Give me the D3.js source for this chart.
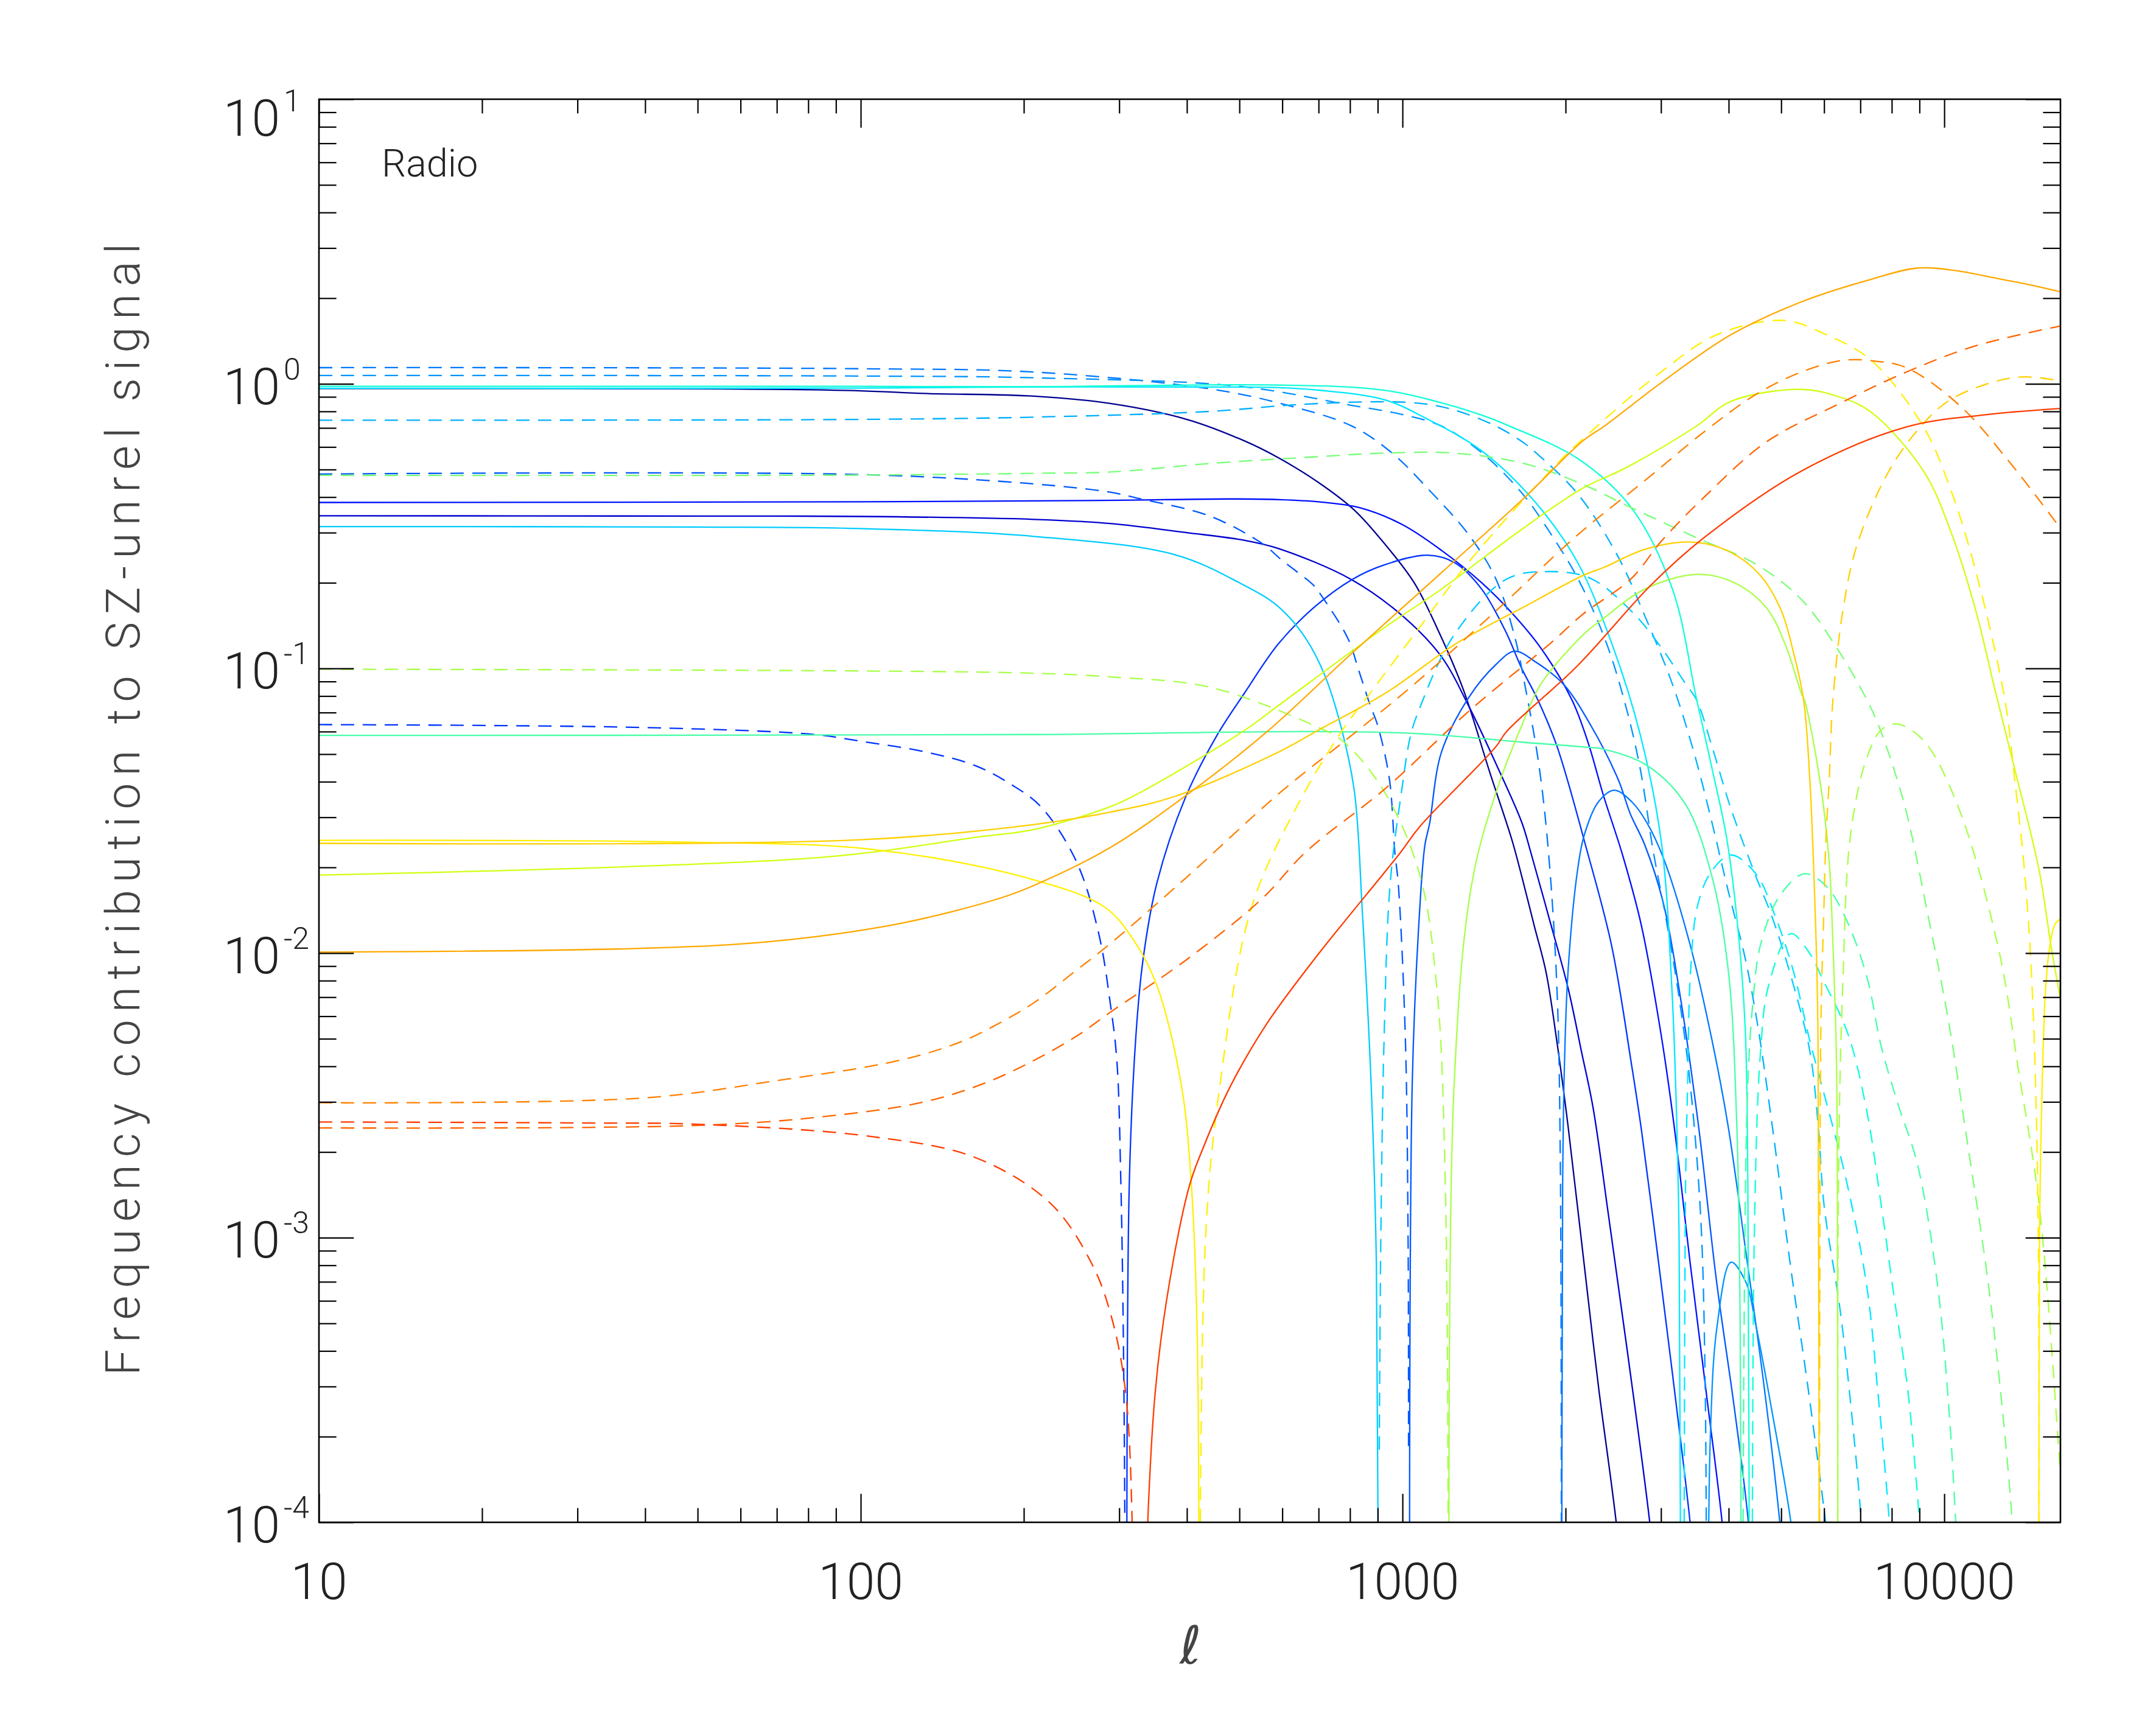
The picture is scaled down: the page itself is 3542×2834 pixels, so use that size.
<!DOCTYPE html>
<html>
<head>
<meta charset="utf-8">
<script src="https://cdn.jsdelivr.net/npm/d3@7"></script>
<style>
  body { margin: 0; background: #fff; }
  text { font-family: Roboto, "DejaVu Sans", sans-serif; font-weight: 300; fill: #222; }
</style>
</head>
<body>
<svg id="chart" width="3542" height="2834"></svg>
<script>
// frequency contributions vs multipole ell
// sign < 0 means negative contribution (drawn dashed), > 0 positive (solid)
// +-1e-5 marks a zero crossing (falls below the axis floor)

const navy = [[10,0.962],[30,0.962],[55,0.96],[100,0.945],[131,0.925],[209,0.905],[289,0.853],[400,0.75],[511,0.63],[590,0.55],[700,0.45],[815,0.36],[930,0.272],[1051,0.2],[1170,0.133],[1295,0.0843],[1450,0.043],[1592,0.025],[1660,0.0186],[1750,0.0125],[1840,0.0086],[1930,0.0048],[2021,0.00247],[2150,0.0009],[2300,0.0003],[2480,0.0001],[2600,0.00004]];
const darkBlue = [[10,0.344],[50,0.343],[100,0.342],[209,0.334],[289,0.323],[400,0.30],[511,0.282],[590,0.264],[806,0.205],[1004,0.152],[1180,0.11],[1325,0.0738],[1486,0.0465],[1660,0.0288],[1725,0.0226],[1862,0.0134],[2021,0.00754],[2140,0.0045],[2248,0.00286],[2400,0.0012],[2600,0.0004],[2860,0.0001],[3000,0.00004]];
const blue = [[10,0.383],[100,0.385],[209,0.388],[300,0.39],[481,0.394],[590,0.392],[700,0.385],[834,0.367],[1000,0.32],[1180,0.26],[1400,0.2],[1600,0.155],[1800,0.118],[2055,0.0775],[2200,0.055],[2348,0.0359],[2550,0.022],[2760,0.0125],[3000,0.0052],[3170,0.0025],[3400,0.0008],[3650,0.00027],[3890,0.0001],[4050,0.00004]];
const blueHump = [[10,-0.0635],[40,-0.062],[82,-0.0586],[100,-0.0555],[131,-0.051],[163,-0.0455],[190,-0.039],[215,-0.0327],[250,-0.021],[275,-0.0117],[289,-0.0066],[297,-0.0042],[302,-0.0016],[306,-0.0003],[309,-0.00001],[310,0.00001],[313,0.0015],[322,0.0051],[332,0.0095],[352,0.0176],[397,0.035],[454,0.058],[511,0.082],[590,0.122],[687,0.164],[806,0.205],[925,0.231],[1113,0.25],[1250,0.235],[1400,0.19],[1550,0.135],[1660,0.1],[1778,0.0775],[1928,0.0533],[2188,0.0231],[2430,0.0107],[2650,0.004],[2760,0.0024],[3000,0.0007],[3200,0.00026],[3395,0.0001],[3550,0.00004]];
const azureA = [[10,-0.482],[100,-0.48],[209,-0.445],[289,-0.416],[327,-0.395],[441,-0.343],[552,-0.274],[596,-0.242],[687,-0.195],[706,-0.182],[792,-0.128],[831,-0.098],[870,-0.075],[900,-0.063],[946,-0.0408],[968,-0.0226],[982,-0.0176],[1012,-0.0051],[1024,-0.001],[1026,-0.000175],[1031,0.00001],[1042,0.0034],[1074,0.0135],[1100,0.024],[1122,0.0285],[1180,0.0508],[1325,0.079],[1486,0.103],[1610,0.115],[1766,0.105],[1983,0.088],[2227,0.063],[2500,0.0408],[2634,0.0308],[2800,0.024],[3030,0.015],[3250,0.0072],[3516,0.0025],[3800,0.0007],[4100,0.00025],[4350,0.0001],[4500,0.00004]];
const azureB = [[10,-1.14],[100,-1.13],[209,-1.10],[441,-0.96],[600,-0.85],[806,-0.711],[957,-0.571],[1113,-0.429],[1325,-0.295],[1486,-0.207],[1610,-0.13],[1687,-0.085],[1788,-0.045],[1862,-0.022],[1928,-0.0075],[1955,-0.002],[1964,-0.00001],[1968,0.00001],[1975,0.0015],[1990,0.004],[2020,0.0085],[2100,0.019],[2163,0.0258],[2300,0.034],[2460,0.0373],[2650,0.034],[2823,0.0288],[3030,0.0216],[3395,0.0107],[3725,0.00496],[3990,0.00247],[4300,0.0009],[4650,0.0003],[4970,0.0001],[5150,0.00004]];
const azureC = [[10,-1.07],[100,-1.065],[209,-1.05],[500,-0.98],[806,-0.84],[1000,-0.78],[1180,-0.711],[1403,-0.571],[1667,-0.41],[1870,-0.301],[2107,-0.207],[2360,-0.128],[2558,-0.079],[2740,-0.0455],[2905,-0.0226],[3061,-0.0134],[3243,-0.0069],[3395,-0.0035],[3550,-0.0012],[3620,-0.0003],[3645,-0.00001],[3660,0.00001],[3700,0.0002],[3810,0.000493],[4040,0.00082],[4300,0.0007],[4490,0.000493],[4800,0.00025],[5210,0.0001],[5400,0.00005]];
const skyDashed = [[10,-0.745],[100,-0.75],[209,-0.764],[441,-0.80],[638,-0.845],[925,-0.865],[1100,-0.85],[1245,-0.81],[1486,-0.711],[1675,-0.62],[1766,-0.571],[2107,-0.41],[2500,-0.247],[2805,-0.152],[3150,-0.088],[3450,-0.0508],[3725,-0.0288],[3990,-0.0166],[4290,-0.0096],[4530,-0.0055],[4810,-0.0025],[5200,-0.0008],[5600,-0.0003],[6040,-0.0001],[6300,-0.00005]];
const sky = [[10,0.315],[50,0.314],[100,0.31],[209,0.291],[380,0.251],[500,0.2],[590,0.165],[662,0.128],[718,0.095],[769,0.063],[815,0.037],[843,0.014],[875,0.0035],[895,0.0008],[902,0.00001],[906,-0.00018],[912,-0.001],[925,-0.0051],[949,-0.0176],[996,-0.037],[1035,-0.0582],[1074,-0.072],[1245,-0.131],[1556,-0.206],[1870,-0.219],[2227,-0.207],[2645,-0.159],[2970,-0.122],[3335,-0.088],[3490,-0.0775],[3725,-0.0533],[4040,-0.0321],[4490,-0.0186],[4810,-0.0134],[5270,-0.0077],[5650,-0.0045],[5850,-0.0025],[6000,-0.0013],[6430,-0.00055],[6830,-0.00019],[7030,-0.0001],[7200,-0.00005]];
const cyan = [[10,0.965],[100,0.966],[209,0.975],[400,0.975],[593,0.97],[700,0.95],[925,0.88],[1100,0.76],[1403,0.58],[1766,0.38],[2107,0.235],[2443,0.12],[2750,0.058],[3005,0.0245],[3140,0.0077],[3200,0.003],[3240,0.001],[3262,0.00001],[3305,-0.00001],[3330,-0.0015],[3360,-0.0035],[3400,-0.0085],[3500,-0.0145],[3700,-0.0191],[4040,-0.0221],[4490,-0.019],[4880,-0.0134],[5270,-0.0086],[5650,-0.0049],[6000,-0.0032],[6590,-0.0016],[7190,-0.00068],[7550,-0.00028],[7920,-0.0001],[8100,-0.00005]];
const turquoise = [[10,0.98],[100,0.98],[209,0.977],[593,0.99],[925,0.95],[1200,0.85],[1445,0.76],[1574,0.711],[2107,0.546],[2645,0.367],[3150,0.19],[3490,0.078],[3725,0.0447],[3960,0.0258],[4140,0.0134],[4290,0.0055],[4340,0.0015],[4370,0.00001],[4420,-0.00001],[4460,-0.001],[4580,-0.0045],[4740,-0.0077],[5210,-0.0117],[5600,-0.0102],[6000,-0.0079],[6640,-0.0052],[7190,-0.0028],[7650,-0.0013],[8100,-0.0006],[8550,-0.0003],[8800,-0.00017],[9000,-0.0001],[9200,-0.00005]];
const aqua = [[10,0.0582],[209,0.0586],[687,0.06],[1074,0.059],[1660,0.0551],[2152,0.053],[2345,0.0521],[2823,0.0457],[3320,0.0336],[3725,0.0186],[3996,0.0086],[4140,0.0025],[4200,0.0005],[4220,0.00001],[4240,-0.00001],[4325,-0.0029],[4440,-0.0069],[4580,-0.0107],[4970,-0.0159],[5520,-0.019],[6050,-0.0172],[6560,-0.0134],[7190,-0.0083],[7650,-0.0047],[8190,-0.003],[8930,-0.0018],[9720,-0.00068],[10200,-0.00025],[10500,-0.0001],[10700,-0.00005]];
const mint = [[10,-0.477],[100,-0.478],[209,-0.485],[289,-0.49],[441,-0.525],[700,-0.555],[925,-0.571],[1245,-0.571],[1675,-0.525],[2152,-0.443],[2645,-0.367],[3490,-0.288],[4500,-0.232],[5445,-0.175],[6300,-0.12],[7200,-0.0775],[7640,-0.06],[8450,-0.033],[9300,-0.014],[10160,-0.0059],[11100,-0.002],[12070,-0.00068],[12800,-0.00025],[13350,-0.0001],[13600,-0.00005]];
const lightGreen = [[10,-0.0994],[100,-0.098],[209,-0.0962],[289,-0.0934],[441,-0.0859],[687,-0.063],[774,-0.0558],[925,-0.037],[1074,-0.0191],[1156,-0.0077],[1200,-0.0015],[1215,-0.00001],[1222,0.00001],[1245,0.0034],[1343,0.0176],[1490,0.037],[1660,0.063],[1800,0.088],[2152,0.131],[2340,0.149],[2800,0.19],[3490,0.214],[4100,0.2],[4700,0.163],[5100,0.12],[5445,0.082],[5520,0.0775],[5900,0.04],[6130,0.0211],[6230,0.0107],[6320,0.0045],[6350,0.0015],[6360,0.00001],[6370,-0.00001],[6380,-0.0016],[6490,-0.0073],[6720,-0.0264],[7190,-0.0483],[7660,-0.061],[8190,-0.0638],[9160,-0.0558],[10600,-0.0328],[12600,-0.0103],[13730,-0.0038],[14970,-0.0013],[16320,-0.000165],[16500,-0.00012]];
const yellowGreen = [[10,0.0188],[85,0.0217],[163,0.0255],[209,0.0272],[289,0.0327],[331,0.037],[511,0.0606],[593,0.0746],[925,0.139],[1180,0.19],[1667,0.31],[2152,0.43],[2590,0.508],[3490,0.711],[4045,0.869],[5445,0.956],[6400,0.9],[7330,0.795],[9160,0.493],[10300,0.3],[11430,0.16],[12390,0.085],[13490,0.0443],[14960,0.0196],[15780,0.0103],[16430,0.0067]];
const yellow = [[10,0.0249],[50,0.0245],[106,0.0231],[202,0.0184],[282,0.0145],[320,0.011],[352,0.0077],[391,0.0034],[408,0.0015],[418,0.00044],[421,0.00001],[422,-0.00001],[433,-0.001],[460,-0.0034],[526,-0.0144],[638,-0.0327],[774,-0.0606],[859,-0.079],[1074,-0.139],[1343,-0.244],[1928,-0.523],[2152,-0.64],[3000,-1.1],[3810,-1.49],[5058,-1.67],[6000,-1.5],[7330,-1.21],[9160,-0.705],[10300,-0.42],[11430,-0.22],[12940,-0.0775],[13490,-0.0407],[14090,-0.0187],[14460,-0.009],[14720,-0.0038],[14910,-0.00105],[14960,-0.00001],[14965,0.00001],[14990,0.00105],[15180,0.0038],[15370,0.0073],[15630,0.0103],[16030,0.0127],[16430,0.0132]];
const gold = [[10,0.0243],[100,0.025],[209,0.0283],[289,0.0313],[380,0.0355],[590,0.0508],[698,0.0606],[935,0.0824],[1245,0.121],[1486,0.146],[1660,0.163],[2152,0.212],[2360,0.227],[2800,0.262],[3413,0.278],[4000,0.258],[4560,0.214],[5000,0.16],[5285,0.111],[5500,0.0775],[5650,0.04],[5760,0.0166],[5820,0.0086],[5850,0.0045],[5880,0.00001],[5890,-0.00001],[5920,-0.0055],[5990,-0.0134],[6050,-0.0258],[6130,-0.04],[6230,-0.0775],[6500,-0.16],[6900,-0.271],[7900,-0.493],[9030,-0.705],[10160,-0.869],[12000,-1.0],[13680,-1.055],[15000,-1.05],[16480,-1.02]];
const orange = [[10,0.01008],[40,0.0104],[69,0.011],[118,0.0127],[181,0.0156],[209,0.0173],[289,0.0235],[408,0.037],[566,0.0606],[798,0.111],[1180,0.217],[1667,0.393],[2152,0.63],[2360,0.711],[3005,1.01],[4045,1.49],[5445,1.94],[7330,2.33],[8900,2.55],[10500,2.5],[12330,2.36],[14500,2.22],[16480,2.10]];
const darkOrange = [[10,-0.00298],[40,-0.0031],[69,-0.00355],[118,-0.0042],[154,-0.0049],[181,-0.0057],[209,-0.0067],[250,-0.0087],[289,-0.0108],[400,-0.0185],[593,-0.0365],[792,-0.0567],[1051,-0.088],[1486,-0.159],[2107,-0.295],[2805,-0.458],[3610,-0.68],[4500,-0.92],[5445,-1.10],[6500,-1.21],[7500,-1.2],[8510,-1.14],[10650,-0.843],[13280,-0.523],[16480,-0.306]];
const redOrange = [[10,-0.00243],[50,-0.00248],[85,-0.00266],[131,-0.003],[170,-0.0035],[209,-0.0042],[250,-0.0051],[289,-0.0062],[400,-0.0095],[550,-0.0155],[662,-0.0226],[935,-0.0382],[1325,-0.0707],[1870,-0.122],[2152,-0.155],[2645,-0.207],[3005,-0.28],[3610,-0.401],[4700,-0.626],[6330,-0.843],[8510,-1.10],[11430,-1.36],[16480,-1.60]];
const red = [[10,-0.00255],[30,-0.00253],[51,-0.0025],[106,-0.00226],[163,-0.00191],[224,-0.00132],[267,-0.00081],[290,-0.00053],[308,-0.00029],[318,-0.00008],[322,-0.00001],[333,0.00001],[340,0.00012],[358,0.000435],[403,0.00149],[430,0.0021],[481,0.0034],[560,0.0056],[687,0.0095],[992,0.0226],[1074,0.0277],[1486,0.053],[1556,0.06],[2107,0.1025],[2873,0.196],[3610,0.289],[5440,0.493],[8495,0.705],[12000,0.78],[16480,0.82]];

const series = [
  ["navy", navy], ["darkBlue", darkBlue], ["blue", blue], ["blueHump", blueHump],
  ["azureA", azureA], ["azureB", azureB], ["azureC", azureC], ["skyDashed", skyDashed],
  ["sky", sky], ["cyan", cyan], ["turquoise", turquoise], ["aqua", aqua],
  ["mint", mint], ["lightGreen", lightGreen], ["yellowGreen", yellowGreen], ["yellow", yellow],
  ["gold", gold], ["orange", orange], ["darkOrange", darkOrange], ["redOrange", redOrange], ["red", red]
];

const xTickLabels = ["10", "100", "1000", "10000"];
const yExponents = [1, 0, -1, -2, -3, -4];

// colours, roughly a rainbow table
const colour = {
  navy: "#000090", darkBlue: "#0000d0", blue: "#0010ff", blueHump: "#0034ff",
  azureA: "#0058ff", azureB: "#0078ff", azureC: "#0094ff", skyDashed: "#00b0ff",
  sky: "#00ccff", cyan: "#00e8ff", turquoise: "#10ffd8", aqua: "#48ffa8",
  mint: "#78ff78", lightGreen: "#a8ff48", yellowGreen: "#d0ff10", yellow: "#fff000",
  gold: "#ffd000", orange: "#ffa800", darkOrange: "#ff8000", redOrange: "#ff6400", red: "#ff3c00"
};

const W = 3542, H = 2834;
const box = {left: 524, right: 3385, top: 163, bottom: 2501};

const x = d3.scaleLog().domain([10, 16384]).range([box.left, box.right]);
const y = d3.scaleLog().domain([1e-4, 10]).range([box.bottom, box.top]);

const svg = d3.select("#chart");
svg.append("rect").attr("width", W).attr("height", H).attr("fill", "#fff");

svg.append("clipPath").attr("id", "plot-area")
  .append("rect")
  .attr("x", box.left).attr("y", box.top)
  .attr("width", box.right - box.left).attr("height", box.bottom - box.top);

// split a series into runs of constant sign
function runs(data) {
  const out = [];
  let cur = [];
  data.forEach(d => {
    if (cur.length && Math.sign(cur[0][1]) !== Math.sign(d[1])) {
      out.push(cur);
      cur = [];
    }
    cur.push(d);
  });
  if (cur.length) out.push(cur);
  return out;
}

const line = d3.line()
  .x(d => x(d[0]))
  .y(d => y(Math.abs(d[1])))
  .curve(d3.curveCatmullRom.alpha(0.5));

const curves = svg.append("g").attr("clip-path", "url(#plot-area)");
series.forEach(([name, data]) => {
  runs(data).forEach(r => {
    curves.append("path")
      .attr("d", line(r))
      .attr("fill", "none")
      .attr("stroke", colour[name])
      .attr("stroke-width", 2.3)
      .attr("stroke-dasharray", r[0][1] < 0 ? "22,14" : null);
  });
});

// ticks on all four sides, pointing inward
const xMajor = [10, 100, 1000, 10000];
const xMinor = [];
[10, 100, 1000, 10000].forEach(k => d3.range(2, 10).forEach(m => { if (m * k <= 16384) xMinor.push(m * k); }));
const yMajor = yExponents.map(e => Math.pow(10, e));
const yMinor = [];
[-4, -3, -2, -1, 0].forEach(e => d3.range(2, 10).forEach(m => yMinor.push(m * Math.pow(10, e))));

const xLen = 0.02 * (box.bottom - box.top), yLen = 0.02 * (box.right - box.left);

function tickGroup(axis, transform) {
  const g = svg.append("g").attr("transform", transform)
    .call(axis.tickSizeOuter(0).tickFormat(""));
  g.select(".domain").remove();
  g.selectAll("line").attr("stroke", "#000").attr("stroke-width", 2.2);
}

tickGroup(d3.axisBottom(x).tickValues(xMajor).tickSize(-xLen), `translate(0,${box.bottom})`);
tickGroup(d3.axisBottom(x).tickValues(xMinor).tickSize(-xLen / 2), `translate(0,${box.bottom})`);
tickGroup(d3.axisTop(x).tickValues(xMajor).tickSize(-xLen), `translate(0,${box.top})`);
tickGroup(d3.axisTop(x).tickValues(xMinor).tickSize(-xLen / 2), `translate(0,${box.top})`);
tickGroup(d3.axisLeft(y).tickValues(yMajor).tickSize(-yLen), `translate(${box.left},0)`);
tickGroup(d3.axisLeft(y).tickValues(yMinor).tickSize(-yLen / 2), `translate(${box.left},0)`);
tickGroup(d3.axisRight(y).tickValues(yMajor).tickSize(-yLen), `translate(${box.right},0)`);
tickGroup(d3.axisRight(y).tickValues(yMinor).tickSize(-yLen / 2), `translate(${box.right},0)`);

svg.append("rect")
  .attr("x", box.left).attr("y", box.top)
  .attr("width", box.right - box.left).attr("height", box.bottom - box.top)
  .attr("fill", "none").attr("stroke", "#000").attr("stroke-width", 2.6);

// x tick labels
svg.append("g").selectAll("text")
  .data(xMajor)
  .join("text")
  .attr("x", d => x(d))
  .attr("y", 2627)
  .attr("text-anchor", "middle")
  .attr("font-size", 84)
  .text((d, i) => xTickLabels[i]);

// y tick labels, 10 with a raised exponent
const yl = svg.append("g");
yExponents.forEach(e => {
  const ty = y(Math.pow(10, e)) + (e === 1 ? 27 : 0);
  yl.append("text").attr("x", 460).attr("y", ty + 33)
    .attr("text-anchor", "end").attr("font-size", 84).text("10");
  yl.append("text").attr("x", 466).attr("y", ty - 7)
    .attr("font-size", 50).text(e < 0 ? "-" + (-e) : String(e));
});

// axis titles
svg.append("text")
  .attr("transform", "translate(229,1330) rotate(-90)")
  .attr("text-anchor", "middle")
  .attr("font-size", 77)
  .attr("textLength", 1860)
  .attr("lengthAdjust", "spacing")
  .style("fill", "#444")
  .text("Frequency contribution to SZ-unrel signal");

svg.append("text")
  .attr("x", 1956).attr("y", 2733)
  .attr("text-anchor", "middle")
  .attr("font-size", 86)
  .style("font-family", "'DejaVu Sans', sans-serif")
  .style("font-style", "italic")
  .style("font-weight", 200)
  .style("fill", "#444")
  .text("ℓ");

svg.append("text")
  .attr("x", 627).attr("y", 290)
  .attr("font-size", 63)
  .text("Radio");
</script>
</body>
</html>
